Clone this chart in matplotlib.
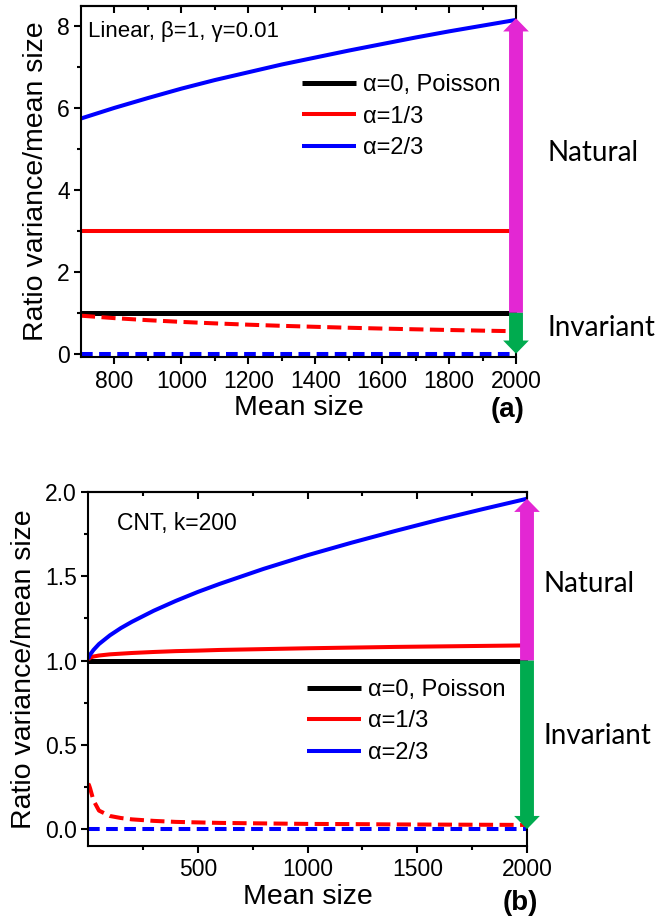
import matplotlib
matplotlib.use("Agg")
import matplotlib.pyplot as plt
from matplotlib.patches import FancyArrowPatch
from matplotlib.ticker import MultipleLocator, FixedLocator, FormatStrFormatter

plt.rcParams['font.family'] = ['Liberation Sans', 'DejaVu Sans']

# ---- panel (a): linear model, beta=1, gamma=0.01
size_a = [700, 800, 900, 1000, 1100, 1200, 1300, 1400, 1500, 1600, 1700, 1800, 1900, 2000]
poisson_a = [1.0] * len(size_a)
third_a = [3.0] * len(size_a)
twothird_a = [5.75, 6.01, 6.25, 6.48, 6.69, 6.88, 7.07, 7.24, 7.41, 7.57, 7.73, 7.88, 8.02, 8.16]
third_inv_a = [0.93, 0.87, 0.82, 0.778, 0.742, 0.71, 0.682, 0.658, 0.635, 0.615, 0.597, 0.58, 0.564, 0.55]
twothird_inv_a = [0.0] * len(size_a)

# ---- panel (b): CNT, k=200
size_b = [1, 5, 10, 25, 50, 100, 150, 200, 300, 400, 500, 600, 800, 1000, 1200, 1400, 1600, 1800, 2000]
poisson_b = [1.0] * len(size_b)
third_b = [1.005, 1.013, 1.018, 1.024, 1.030, 1.037, 1.041, 1.045, 1.051, 1.056, 1.059, 1.063,
           1.068, 1.073, 1.077, 1.081, 1.084, 1.087, 1.090]
twothird_b = [1.009, 1.025, 1.036, 1.063, 1.098, 1.150, 1.193, 1.230, 1.296, 1.354, 1.407, 1.455,
              1.544, 1.625, 1.699, 1.769, 1.836, 1.899, 1.960]
third_inv_b = [0.27, 0.26, 0.24, 0.17, 0.11, 0.078, 0.066, 0.058, 0.049, 0.043, 0.040, 0.037,
               0.034, 0.031, 0.030, 0.028, 0.027, 0.026, 0.025]
twothird_inv_b = [0.0] * len(size_b)

labels = ['α=0, Poisson', 'α=1/3', 'α=2/3']

W, H = 659, 924
fig = plt.figure(figsize=(W / 100, H / 100), dpi=100)


def box(l, t, r, b):
    return [l / W, 1 - b / H, (r - l) / W, (b - t) / H]


def style(ax):
    for s in ax.spines.values():
        s.set_linewidth(1.5)
    ax.tick_params(axis='both', which='both', direction='out', width=1.5,
                   labelsize=16.5, top=False, right=False)
    ax.tick_params(which='major', length=5)
    ax.tick_params(which='minor', length=3)
    ax.tick_params(axis='x', pad=4)
    ax.tick_params(axis='y', pad=3)
    # inward ticks on the top frame
    sec = ax.secondary_xaxis('top')
    sec.xaxis.set_major_locator(ax.xaxis.get_major_locator())
    sec.xaxis.set_minor_locator(ax.xaxis.get_minor_locator())
    sec.tick_params(which='both', direction='in', width=1.5, labeltop=False)
    sec.tick_params(which='major', length=5)
    sec.tick_params(which='minor', length=3)
    sec.spines['top'].set_linewidth(1.5)


def arrows(ax, x, lo, mid, hi):
    kw = dict(arrowstyle='simple,head_width=18.5,head_length=9.5,tail_width=10',
              mutation_scale=1, shrinkA=0, shrinkB=0, clip_on=False, zorder=10,
              linewidth=0)
    ax.add_patch(FancyArrowPatch((x, mid), (x, hi), color='#e327d3', **kw))
    ax.add_patch(FancyArrowPatch((x, mid), (x, lo), color='#00ab4f', **kw))


def draw(ax, x, p, t, tt, ti, tti):
    ax.plot(x, p, color='black', lw=3.6, label=labels[0], solid_capstyle='butt')
    ax.plot(x, t, color='#ff0000', lw=2.9, label=labels[1], solid_capstyle='butt')
    ax.plot(x, tt, color='#0000ff', lw=2.9, label=labels[2], solid_capstyle='butt')
    ax.plot(x, ti, color='#ff0000', lw=2.9, ls=(0, (3.5, 1.6)))
    ax.plot(x, tti, color='#0000ff', lw=2.9, ls=(0, (2.9, 1.6)))


leg_kw = dict(loc='upper left', frameon=False, fontsize=17, handlelength=2.3,
              handletextpad=0.3, labelspacing=0.4, borderpad=0, borderaxespad=0)

# panel (a)
ax1 = fig.add_axes(box(81, 6, 516, 357))
draw(ax1, size_a, poisson_a, third_a, twothird_a, third_inv_a, twothird_inv_a)
ax1.set_xlim(700, 2000)
ax1.set_ylim(-0.08, 8.5)
ax1.xaxis.set_major_locator(FixedLocator([800, 1000, 1200, 1400, 1600, 1800, 2000]))
ax1.xaxis.set_minor_locator(FixedLocator([900, 1100, 1300, 1500, 1700, 1900]))
ax1.yaxis.set_major_locator(MultipleLocator(2))
ax1.yaxis.set_minor_locator(MultipleLocator(1))
style(ax1)
ax1.set_xlabel('Mean size', fontsize=20.5, labelpad=2)
ax1.set_ylabel('Ratio variance/mean size', fontsize=20.5, labelpad=6)
arrows(ax1, 2000, 0.0, 1.0, 8.2)
ax1.legend(bbox_to_anchor=(0.508, 0.806), **leg_kw)
ax1.text(0.017, 0.928, 'Linear, β=1, γ=0.01', transform=ax1.transAxes,
         fontsize=16, va='center')

# panel (b)
ax2 = fig.add_axes(box(88, 492, 527, 846))
draw(ax2, size_b, poisson_b, third_b, twothird_b, third_inv_b, twothird_inv_b)
ax2.set_xlim(0, 2000)
ax2.set_ylim(-0.1, 2.0)
ax2.xaxis.set_major_locator(FixedLocator([500, 1000, 1500, 2000]))
ax2.xaxis.set_minor_locator(FixedLocator([250, 750, 1250, 1750]))
ax2.yaxis.set_major_locator(MultipleLocator(0.5))
ax2.yaxis.set_minor_locator(MultipleLocator(0.25))
ax2.yaxis.set_major_formatter(FormatStrFormatter('%.1f'))
style(ax2)
ax2.set_xlabel('Mean size', fontsize=20.5, labelpad=2)
ax2.set_ylabel('Ratio variance/mean size', fontsize=20.5, labelpad=6)
arrows(ax2, 2000, 0.0, 1.0, 1.96)
ax2.legend(bbox_to_anchor=(0.499, 0.472), **leg_kw)
ax2.text(0.066, 0.91, 'CNT, k=200', transform=ax2.transAxes,
         fontsize=16.5, va='center')

# side annotations
side = dict(fontsize=20, family=['Lato', 'DejaVu Sans'], va='center', ha='left')
fig.text(547 / W, 1 - 153 / H, 'Natural', **side)
fig.text(547 / W, 1 - 328 / H, 'Invariant', **side)
fig.text(543 / W, 1 - 584 / H, 'Natural', **side)
fig.text(543 / W, 1 - 736 / H, 'Invariant', **side)

fig.text(491 / W, 1 - 410 / H, '(a)', fontsize=20, fontweight='bold', va='center')
fig.text(503 / W, 1 - 903 / H, '(b)', fontsize=20, fontweight='bold', va='center')

fig.savefig('out.png', dpi=100)
